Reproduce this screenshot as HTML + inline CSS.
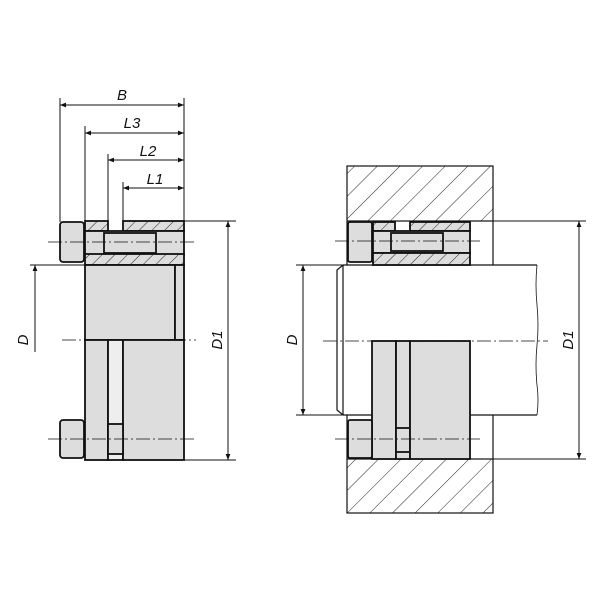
<!DOCTYPE html>
<html><head><style>body{margin:0;background:#fff}svg{display:block}</style></head>
<body>
<svg width="600" height="600" viewBox="0 0 600 600" xmlns="http://www.w3.org/2000/svg" font-family="Liberation Sans, sans-serif">
<defs>
<pattern id="h" patternUnits="userSpaceOnUse" width="16" height="16" patternTransform="rotate(45)">
<rect width="16" height="16" fill="#fff"/><line x1="0" y1="0" x2="0" y2="16" stroke="#222" stroke-width="1"/></pattern>
<pattern id="h2" patternUnits="userSpaceOnUse" width="9" height="9" patternTransform="rotate(45)">
<rect width="9" height="9" fill="#ddd"/><line x1="0" y1="0" x2="0" y2="9" stroke="#222" stroke-width="1"/></pattern>
<marker id="a" viewBox="0 0 10 10" refX="10" refY="5" markerWidth="10" markerHeight="6" orient="auto-start-reverse" markerUnits="userSpaceOnUse"><path d="M0,1 L10,5 L0,9 z" fill="#111"/></marker>
</defs>
<g stroke="#111" fill="none" stroke-width="1">
<line x1="60" y1="98" x2="60" y2="222"/><line x1="184" y1="98" x2="184" y2="222"/>
<line x1="85" y1="126" x2="85" y2="222"/><line x1="108" y1="154" x2="108" y2="222"/><line x1="123" y1="182" x2="123" y2="222"/>
<line x1="60" y1="105" x2="184" y2="105" marker-start="url(#a)" marker-end="url(#a)"/>
<line x1="85" y1="133" x2="184" y2="133" marker-start="url(#a)" marker-end="url(#a)"/>
<line x1="108" y1="160" x2="184" y2="160" marker-start="url(#a)" marker-end="url(#a)"/>
<line x1="123" y1="188" x2="184" y2="188" marker-end="url(#a)"/>
<line x1="123" y1="188" x2="140" y2="188" marker-start="url(#a)"/>
<line x1="184" y1="221" x2="236" y2="221"/><line x1="184" y1="460" x2="236" y2="460"/>
<line x1="228" y1="221" x2="228" y2="460" marker-start="url(#a)" marker-end="url(#a)"/>
<line x1="30" y1="265" x2="85" y2="265"/>
<line x1="35" y1="352" x2="35" y2="265" marker-end="url(#a)"/>
</g>
<g stroke="#111" stroke-width="1.8">
<rect x="60" y="222" width="24" height="40" rx="3" fill="#ddd"/>
<rect x="85" y="221" width="23" height="10" fill="url(#h2)"/>
<rect x="123" y="221" width="61" height="10" fill="url(#h2)"/>
<rect x="85" y="231" width="99" height="24" fill="#ddd"/>
<rect x="104" y="233" width="52" height="20" fill="#ddd"/>
<rect x="85" y="254" width="99" height="11" fill="url(#h2)"/>
<rect x="85" y="265" width="90" height="75" fill="#ddd"/>
<rect x="175" y="265" width="9" height="75" fill="#ddd"/>
<rect x="85" y="340" width="23" height="120" fill="#ddd"/>
<rect x="108" y="340" width="15" height="120" fill="#eee"/>
<rect x="123" y="340" width="61" height="120" fill="#ddd"/>
<rect x="60" y="420" width="24" height="38" rx="3" fill="#ddd"/>
<rect x="108" y="424" width="15" height="30" fill="#ddd"/>
</g>
<!-- RIGHT VIEW hub -->
<g stroke="#111" stroke-width="1.2">
<rect x="347" y="166" width="146" height="55" fill="url(#h)"/>
<rect x="347" y="459" width="146" height="54" fill="url(#h)"/>
<line x1="347" y1="221" x2="347" y2="265"/><line x1="493" y1="221" x2="493" y2="265"/>
<line x1="347" y1="415" x2="347" y2="459"/><line x1="493" y1="415" x2="493" y2="459"/>
</g>
<g stroke="#111" stroke-width="1.2" fill="none">
<path d="M343,265 L537,265 M343,415 L537,415 M343,265 L337,270 L337,410 L343,415"/>
<line x1="343" y1="265" x2="343" y2="415"/>
<path d="M537,265 q-2,20 0,40 q2,20 0,40 q-2,20 0,40 q2,15 0,30" stroke-width="0.8"/>
<line x1="493" y1="221" x2="586" y2="221" stroke-width="1"/><line x1="493" y1="459" x2="586" y2="459" stroke-width="1"/>
<line x1="579" y1="221" x2="579" y2="459" stroke-width="1" marker-start="url(#a)" marker-end="url(#a)"/>
<line x1="296" y1="265" x2="343" y2="265" stroke-width="1"/><line x1="296" y1="415" x2="343" y2="415" stroke-width="1"/>
<line x1="303" y1="265" x2="303" y2="415" stroke-width="1" marker-start="url(#a)" marker-end="url(#a)"/>
</g>
<g stroke="#111" stroke-width="1.8">
<rect x="348" y="222" width="24" height="40" rx="2" fill="#ddd"/>
<rect x="373" y="222" width="22" height="9" fill="url(#h2)"/>
<rect x="410" y="222" width="60" height="9" fill="url(#h2)"/>
<rect x="373" y="231" width="97" height="22" fill="#ddd"/>
<rect x="391" y="233" width="52" height="18" fill="#ddd"/>
<rect x="373" y="253" width="97" height="12" fill="url(#h2)"/>
<rect x="372" y="341" width="24" height="118" fill="#ddd"/>
<rect x="396" y="341" width="14" height="118" fill="#ddd"/>
<rect x="410" y="341" width="60" height="118" fill="#ddd"/>
<rect x="348" y="420" width="24" height="38" rx="2" fill="#ddd"/>
<line x1="396" y1="428" x2="410" y2="428"/><line x1="396" y1="452" x2="410" y2="452"/>
</g>
<g stroke="#111" stroke-width="0.8" stroke-dasharray="14,3,2,3" fill="none">
<line x1="48" y1="242" x2="196" y2="242"/>
<line x1="62" y1="340" x2="196" y2="340"/>
<line x1="48" y1="439" x2="196" y2="439"/>
<line x1="335" y1="241" x2="480" y2="241"/>
<line x1="323" y1="341" x2="548" y2="341"/>
<line x1="335" y1="439" x2="480" y2="439"/>
</g>
<g font-size="15" font-style="italic" fill="#111" text-anchor="middle">
<text x="122" y="100">B</text>
<text x="132" y="128">L3</text>
<text x="148" y="156">L2</text>
<text x="155" y="184">L1</text>
<text transform="translate(28,340) rotate(-90)">D</text>
<text transform="translate(222,340) rotate(-90)">D1</text>
<text transform="translate(297,340) rotate(-90)">D</text>
<text transform="translate(573,340) rotate(-90)">D1</text>
</g>
</svg>
</body></html>
